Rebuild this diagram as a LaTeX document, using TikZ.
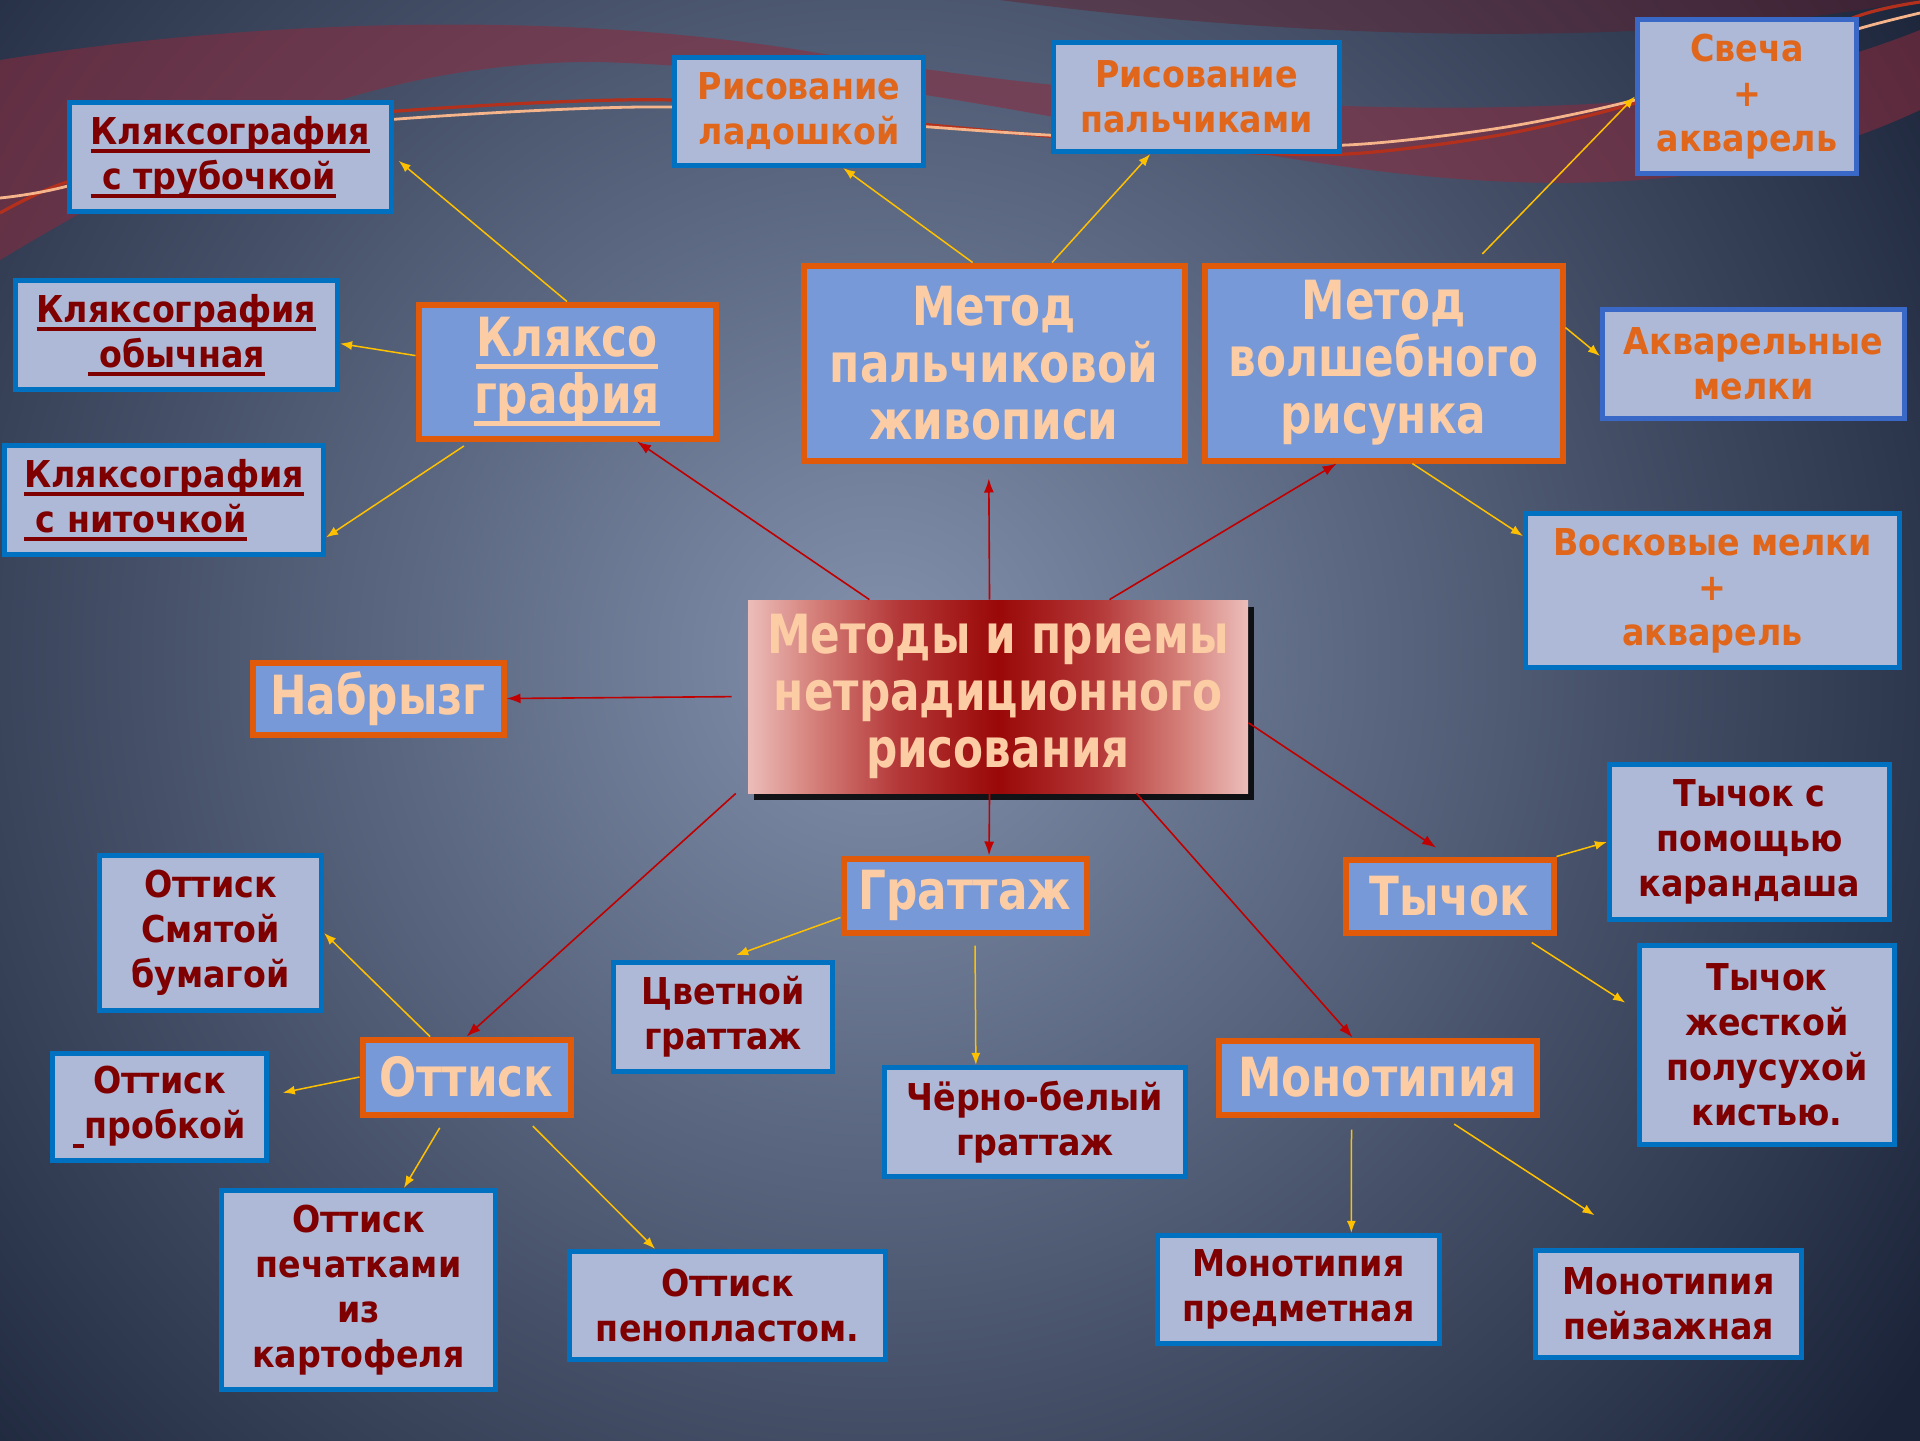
\documentclass[tikz,border=0pt]{standalone}
\usepackage{fontspec}
\setmainfont{DejaVu Sans Condensed}
\newfontfamily\leaffamily{DejaVu Sans Condensed Bold}
\newfontfamily\methfamily{DejaVu Sans Condensed Bold}[FakeStretch=0.9]
\usetikzlibrary{arrows.meta,shadows}

\definecolor{bgin}{HTML}{8391AD}
\definecolor{bgout}{HTML}{1A2338}
\definecolor{bandred}{HTML}{8E2A3C}
\definecolor{wavered}{HTML}{B3301C}
\definecolor{wavepeach}{HTML}{F6B48A}
\definecolor{leaffill}{HTML}{ADB9D7}
\definecolor{leafline}{HTML}{0070C0}
\definecolor{leafline2}{HTML}{3A68C6}
\definecolor{leaftext}{HTML}{7F0000}
\definecolor{leaforange}{HTML}{E0661C}
\definecolor{methfill}{HTML}{7799D8}
\definecolor{methline}{HTML}{E05A0A}
\definecolor{peach}{HTML}{FCCCA5}
\definecolor{centremid}{HTML}{9A0808}
\definecolor{centrered}{HTML}{B43838}
\definecolor{centrepink}{HTML}{D7857F}
\definecolor{centreedge}{HTML}{ECBDBA}
\definecolor{linkred}{HTML}{C00000}
\definecolor{linkyellow}{HTML}{FFC000}

\pgfdeclarehorizontalshading{centreshade}{100bp}{color(0bp)=(centreedge); color(25bp)=(centreedge);
  color(31bp)=(centrepink); color(40bp)=(centrered); color(50bp)=(centremid); color(60bp)=(centrered);
  color(69bp)=(centrepink); color(75bp)=(centreedge); color(100bp)=(centreedge)}

\newcommand{\leaffont}{\leaffamily\fontsize{18.5}{22.5}\selectfont}
\newcommand{\methfont}{\methfamily\fontsize{27}{28.5}\selectfont}
\newsavebox{\ulbox}
\newcommand{\ulined}[1]{\sbox\ulbox{#1}\rlap{\rule[-0.24em]{\wd\ulbox}{0.1em}}\usebox\ulbox}

\begin{document}
\begin{tikzpicture}[x=0.5pt,y=-0.5pt,
    boxsize/.style 2 args={minimum width=#1*0.5pt,minimum height=#2*0.5pt},
    leaf/.style={rectangle,draw=leafline,fill=leaffill,line width=2.6pt,text=leaftext,
      align=center,inner sep=0pt,font=\leaffont},
    leafo/.style={leaf,text=leaforange},
    method/.style={rectangle,draw=methline,fill=methfill,line width=3pt,text=peach,
      align=center,inner sep=0pt,font=\methfont},
    centrebox/.style={rectangle,shade,shading=centreshade,
      text=peach,align=center,inner sep=0pt,font=\methfont,
      drop shadow={shadow xshift=3pt,shadow yshift=-3.5pt,fill=black,opacity=0.85}},
    redlink/.style={draw=linkred,line width=0.8pt,-{Latex[length=7pt,width=5pt]}},
    yellowlink/.style={draw=linkyellow,line width=0.75pt,-{Latex[length=6pt,width=4.5pt]}}]
  \useasboundingbox (0,0) rectangle (1920,1440);

  % background
  \fill[bgout] (-20,-20) rectangle (1940,1460);
  \begin{scope}
    \clip (0,0) rectangle (1920,1440);
    \shade[inner color=bgin,outer color=bgout] (880,660) circle (630pt);
    \fill[bandred,opacity=0.55] (0,60) .. controls (250,20) and (550,10) .. (800,50)
      .. controls (1100,100) and (1400,120) .. (1650,100)
      .. controls (1780,80) and (1870,50) .. (1920,30) -- (1920,110)
      .. controls (1750,190) and (1550,200) .. (1300,160)
      .. controls (1050,120) and (850,70) .. (600,62)
      .. controls (350,60) and (150,170) .. (0,260) -- cycle;
    \fill[bandred!70!black,opacity=0.45] (1000,0) .. controls (1300,40) and (1650,50) .. (1920,0) -- cycle;
    \draw[wavered,line width=1.6pt] plot[smooth] coordinates {(0,213) (64,183) (230,132) (398,111)
      (671,100) (930,125) (1047,136) (1200,150) (1347,154) (1500,135) (1635,103) (1750,60) (1861,15) (1920,2)};
    \draw[wavepeach,line width=1.4pt] plot[smooth] coordinates {(0,198) (64,187) (230,140) (398,119)
      (671,107) (930,127) (1047,135) (1200,142) (1347,145) (1500,128) (1635,100) (1750,62) (1861,28) (1920,13)};
  \end{scope}

  \node[leaf,align=left,boxsize={322}{109}] (trub) at (230.5,157) {\ulined{Кляксография}\\\ulined{\ с трубочкой}};
  \node[leaf,boxsize={322}{109}] (obych) at (176.5,335) {\ulined{Кляксография}\\\ulined{\ обычная}};
  \node[leaf,align=left,boxsize={319}{109}] (nitoch) at (164,500) {\ulined{Кляксография}\\\ulined{\ с ниточкой}};
  \node[leafo,boxsize={249}{108}] (ladosh) at (799,111.5) {Рисование\\ладошкой};
  \node[leafo,boxsize={286}{109}] (palch) at (1196.5,97) {Рисование\\пальчиками};
  \node[leafo,draw=leafline2,boxsize={219}{154}] (svecha) at (1747,96.5) {Свеча\\+\\акварель};
  \node[leafo,draw=leafline2,boxsize={302}{109}] (akvmel) at (1753.5,364) {Акварельные\\мелки};
  \node[leafo,boxsize={374}{154}] (vosk) at (1712.5,590.5) {Восковые мелки\\+\\акварель};

  \node[method,boxsize={297}{134}] (kljakso) at (567,371.5) {\ulined{Кляксо}\\\ulined{графия}};
  \node[method,boxsize={381}{195}] (palzhiv) at (994,363) {Метод\\пальчиковой\\живописи};
  \node[method,boxsize={358}{195}] (volsh) at (1383.5,363) {Метод\\волшебного\\рисунка};
  \node[method,boxsize={251}{72}] (nabr) at (378,698.5) {Набрызг};
  \node[method,boxsize={243}{74}] (grat) at (965,895.5) {Граттаж};
  \node[method,boxsize={208}{73}] (tychok) at (1449.5,896) {Тычок};
  \node[method,boxsize={208}{75}] (ottisk) at (466.5,1077) {Оттиск};
  \node[method,boxsize={318}{74}] (mono) at (1377.5,1077.5) {Монотипия};

  \node[centrebox,boxsize={500}{193}] (centre) at (998,696.5) {Методы и приемы\\нетрадиционного\\рисования};

  \node[leaf,boxsize={280}{155}] (karand) at (1749.5,842) {Тычок с\\помощью\\карандаша};
  \node[leaf,boxsize={255}{199}] (kist) at (1767,1045) {Тычок\\жесткой\\полусухой\\кистью.};
  \node[leaf,boxsize={222}{155}] (smyat) at (210.5,933) {Оттиск\\Смятой\\бумагой};
  \node[leaf,boxsize={214}{107}] (probk) at (159.5,1107) {Оттиск\\\ulined{\ }пробкой};
  \node[leaf,boxsize={274}{199}] (kart) at (358.5,1290) {Оттиск\\печатками\\из\\картофеля};
  \node[leaf,boxsize={316}{108}] (peno) at (727.5,1305.5) {Оттиск\\пенопластом.};
  \node[leaf,boxsize={219}{109}] (cvet) at (723,1017) {Цветной\\граттаж};
  \node[leaf,boxsize={301}{109}] (chb) at (1035,1122) {Чёрно-белый\\граттаж};
  \node[leaf,boxsize={282}{108}] (predm) at (1298.5,1289.5) {Монотипия\\предметная};
  \node[leaf,boxsize={266}{107}] (peyz) at (1668.5,1304) {Монотипия\\пейзажная};

  \draw[redlink] (centre.143) -- (kljakso.-45);
  \draw[redlink,shorten >=7.5pt] (centre.95) -- (palzhiv.-93);
  \draw[redlink] (centre.41) -- (volsh.-115);
  \draw[redlink,shorten <=8pt] (centre.west) -- (nabr.east);
  \draw[redlink,shorten >=8pt] (centre.-6) -- (tychok.north);
  \draw[redlink] (centre.-95) -- (grat.59);
  \draw[redlink] (centre.-35) -- (mono.122);
  \draw[redlink,shorten <=8pt] (centre.-161) -- (ottisk.north);

  \draw[yellowlink,shorten >=3pt] (kljakso.north) -- (trub.east);
  \draw[yellowlink] (kljakso.174) -- (obych.-3);
  \draw[yellowlink,shorten <=4pt] (kljakso.-144) -- (nitoch.-13);
  \draw[yellowlink] (palzhiv.102) -- (ladosh.-52);
  \draw[yellowlink] (palzhiv.60) -- (palch.-129);
  \draw[yellowlink,shorten <=6pt] (volsh.48) -- (svecha.west);
  \draw[yellowlink] (volsh.11) -- (akvmel.177);
  \draw[yellowlink] (volsh.-74) -- (vosk.164);
  \draw[yellowlink,shorten >=7pt] (grat.-170) -- (cvet.north);
  \draw[yellowlink,shorten <=5pt] (grat.-76) -- (chb.136);
  \draw[yellowlink] (tychok.north east) -- (karand.west);
  \draw[yellowlink,shorten <=6.5pt,shorten >=7pt] (tychok.-29) -- (kist.165);
  \draw[yellowlink] (ottisk.132) -- (smyat.east);
  \draw[yellowlink,shorten >=7pt] (ottisk.west) -- (probk.6);
  \draw[yellowlink,shorten <=6pt] (ottisk.-117) -- (kart.66);
  \draw[yellowlink,shorten <=6pt] (ottisk.-35) -- (peno.142);
  \draw[yellowlink,shorten <=6pt] (mono.-123) -- (predm.47);
  \draw[yellowlink,shorten <=6pt,shorten >=30pt] (mono.-31) -- (peyz.113);
\end{tikzpicture}
\end{document}
